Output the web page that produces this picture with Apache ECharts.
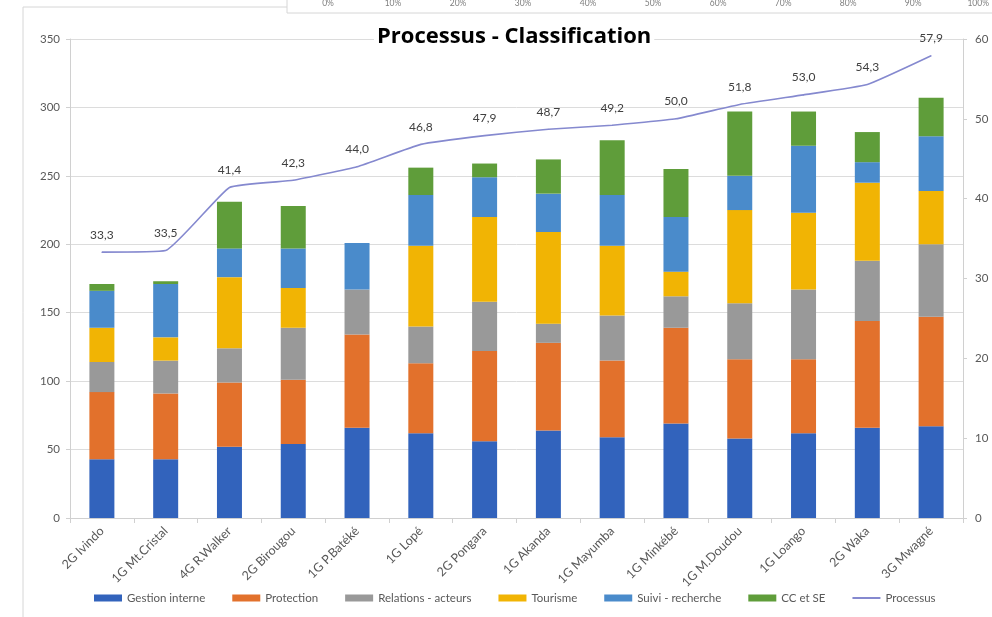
<!DOCTYPE html>
<html><head><meta charset="utf-8">
<script src="https://cdn.jsdelivr.net/npm/echarts@6/dist/echarts.min.js"></script>
<style>html,body{margin:0;padding:0;background:#fff}#c{width:992px;height:617px}</style>
</head><body><div id="c"></div>
<script>
const categories = ['2G Ivindo','1G Mt.Cristal','4G R.Walker','2G Birougou','1G P.Batéké','1G Lopé','2G Pongara','1G Akanda','1G Mayumba','1G Minkébé','1G M.Doudou','1G Loango','2G Waka','3G Mwagné'];
const gestion    = [43,43,52,54,66,62,56,64,59,69,58,62,66,67];
const protection = [49,48,47,47,68,51,66,64,56,70,58,54,78,80];
const relations  = [22,24,25,38,33,27,36,14,33,23,41,51,44,53];
const tourisme   = [25,17,52,29,0,59,62,67,51,18,68,56,57,39];
const suivi      = [27,39,21,29,34,37,29,28,37,40,25,49,15,40];
const ccse       = [5,2,34,31,0,20,10,25,40,35,47,25,22,28];
const processus  = [33.3,33.5,41.4,42.3,44.0,46.8,47.9,48.7,49.2,50.0,51.8,53.0,54.3,57.9];
const leftAxisRange = [0,350,50];
const rightAxisRange = [0,60,10];
const topPercentRange = [0,100,10];

const FONT = 'Lato';
const labelColor = '#595959';
const chart = echarts.init(document.getElementById('c'));
const barNames = ['Gestion interne','Protection','Relations - acteurs','Tourisme','Suivi - recherche','CC et SE'];
const barData = [gestion, protection, relations, tourisme, suivi, ccse];
const barColors = ['#3263BC','#E2712C','#999999','#F1B404','#4A8BCB','#5F9D3A'];
const lineColor = '#8589CF';

const series = barData.map((d,i)=>({
  name: barNames[i], type:'bar', stack:'total', data:d, barWidth:25,
  itemStyle:{color:barColors[i]}, xAxisIndex:0, yAxisIndex:0
}));
series.push({
  name:'Processus', type:'line', data:processus, xAxisIndex:0, yAxisIndex:1,
  symbol:'circle', symbolSize:1, smooth:0.12,
  lineStyle:{color:lineColor, width:1.6}, itemStyle:{color:lineColor},
  label:{show:true, position:'top', distance:11, color:'#404040', fontFamily:FONT, fontSize:12,
    formatter:p=>p.value.toFixed(1).replace('.',',')},
  z:5
});

chart.setOption({
  animation:false,
  backgroundColor:'#fff',
  textStyle:{fontFamily:FONT},
  title:{text:'Processus - Classification', left:374, top:26, backgroundColor:'#fff', padding:[0,3],
    textStyle:{fontFamily:'Open Sans', fontWeight:'bold', fontSize:22, color:'#000'}},
  graphic:[
    {type:'rect', shape:{x:23,y:7,width:1000,height:700}, style:{fill:'none', stroke:'#d6d6d6', lineWidth:1}, z:-1},
    {type:'rect', shape:{x:287,y:-10,width:720,height:23}, style:{fill:'#fff', stroke:'#d6d6d6', lineWidth:1}, z:-1}
  ],
  legend:{bottom:8, left:89, itemWidth:28, itemHeight:7, itemGap:27,
    textStyle:{fontFamily:FONT, fontSize:11.5, color:labelColor},
    data:barNames.map(n=>({name:n, icon:'rect'})).concat([{name:'Processus', icon:'path://M0,0L20,0L20,1.4L0,1.4Z', itemStyle:{color:lineColor}}])},
  grid:[
    {left:70, right:29, top:39, bottom:99},
    {left:328, right:-16, top:10, height:1}
  ],
  xAxis:[
    {type:'category', data:categories, gridIndex:0,
      axisLine:{lineStyle:{color:'#d0d0d0'}}, axisTick:{show:true, length:5, lineStyle:{color:'#d0d0d0'}},
      axisLabel:{rotate:45, color:labelColor, fontFamily:FONT, fontSize:12.5, margin:11, interval:0}},
    {type:'value', gridIndex:1, position:'top', min:topPercentRange[0], max:topPercentRange[1], interval:topPercentRange[2],
      axisLine:{show:false}, axisTick:{show:false}, splitLine:{show:false},
      axisLabel:{color:'#7f7f7f', fontFamily:FONT, fontSize:8.5, margin:3, formatter:'{value}%'}, z:10}
  ],
  yAxis:[
    {type:'value', gridIndex:0, min:leftAxisRange[0], max:leftAxisRange[1], interval:leftAxisRange[2],
      axisLine:{show:true, lineStyle:{color:'#d0d0d0'}}, axisTick:{show:true, length:4, lineStyle:{color:'#d0d0d0'}},
      splitLine:{lineStyle:{color:'#dcdcdc'}},
      axisLabel:{color:labelColor, fontFamily:FONT, fontSize:11.5, margin:10}},
    {type:'value', gridIndex:0, position:'right', min:rightAxisRange[0], max:rightAxisRange[1], interval:rightAxisRange[2],
      axisLine:{show:true, lineStyle:{color:'#d0d0d0'}}, axisTick:{show:true, length:4, lineStyle:{color:'#d0d0d0'}},
      splitLine:{show:false},
      axisLabel:{color:labelColor, fontFamily:FONT, fontSize:11.5, margin:12}},
    {type:'value', gridIndex:1, show:false}
  ],
  series: series
});
</script></body></html>
